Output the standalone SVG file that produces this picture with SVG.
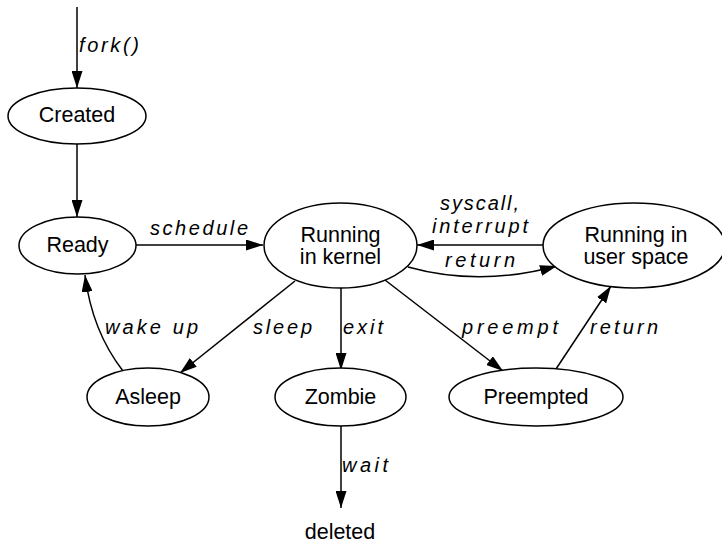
<svg xmlns="http://www.w3.org/2000/svg" width="722" height="544" viewBox="0 0 722 544">
  <defs>
    <marker id="arrow" markerUnits="userSpaceOnUse" markerWidth="17" markerHeight="11" refX="17" refY="5.5" orient="auto">
      <path d="M0,0 L17,5.5 L0,11 z" fill="#000"/>
    </marker>
    <style>
      .node ellipse { fill: #fff; stroke: #000; stroke-width: 1.5; }
      .node text { font-family: "Liberation Sans", Arial, sans-serif; font-size: 21.5px; fill: #000; text-anchor: middle; }
      .edges path { fill: none; stroke: #000; stroke-width: 1.5; marker-end: url(#arrow); }
      .label { font-family: "Liberation Sans", Arial, sans-serif; font-size: 20px; font-style: italic; fill: #000; }
    </style>
  </defs>
  <rect width="722" height="544" fill="#fff"/>

  <g class="edges" id="edges">
    <path d="M77,7 L77,88"/>
    <path d="M77,144 L77,217"/>
    <path d="M136,245 L263,245"/>
    <path d="M543,245 L417,245"/>
    <path d="M408,267 Q480,287 557,266"/>
    <path d="M295,281 L180,373"/>
    <path d="M341,288 L341,370"/>
    <path d="M385,280 L503,371"/>
    <path d="M556,369 L611,286"/>
    <path d="M123,371 Q92,331 85,275"/>
    <path d="M341,424 L341,508"/>
  </g>

  <g id="edge-labels">
    <text class="label" x="79" y="52" textLength="60" lengthAdjust="spacing">fork()</text>
    <text class="label" x="150" y="235" textLength="98" lengthAdjust="spacing">schedule</text>
    <text class="label" x="440" y="210" textLength="79" lengthAdjust="spacing">syscall,</text>
    <text class="label" x="432" y="233" textLength="96" lengthAdjust="spacing">interrupt</text>
    <text class="label" x="445" y="267" textLength="70" lengthAdjust="spacing">return</text>
    <text class="label" x="105" y="334" textLength="93" lengthAdjust="spacing">wake up</text>
    <text class="label" x="253" y="334" textLength="59" lengthAdjust="spacing">sleep</text>
    <text class="label" x="343" y="334" textLength="40" lengthAdjust="spacing">exit</text>
    <text class="label" x="462" y="334" textLength="96" lengthAdjust="spacing">preempt</text>
    <text class="label" x="590" y="334" textLength="68" lengthAdjust="spacing">return</text>
    <text class="label" x="342" y="472" textLength="46" lengthAdjust="spacing">wait</text>
  </g>

  <g class="node" id="created">
    <ellipse cx="77" cy="116" rx="69" ry="28"/>
    <text x="77" y="122">Created</text>
  </g>
  <g class="node" id="ready">
    <ellipse cx="77.5" cy="245.5" rx="58.5" ry="28.5"/>
    <text x="77.5" y="252">Ready</text>
  </g>
  <g class="node" id="running-kernel">
    <ellipse cx="340.5" cy="245.5" rx="76.5" ry="42.5"/>
    <text x="340.5" y="242">Running</text>
    <text x="340.5" y="264">in kernel</text>
  </g>
  <g class="node" id="running-user">
    <ellipse cx="634" cy="245.5" rx="91" ry="42.5"/>
    <text x="636" y="241.5">Running in</text>
    <text x="636" y="263.5">user space</text>
  </g>
  <g class="node" id="asleep">
    <ellipse cx="148" cy="397" rx="61" ry="29"/>
    <text x="148" y="404">Asleep</text>
  </g>
  <g class="node" id="zombie">
    <ellipse cx="340.5" cy="397" rx="65.5" ry="29"/>
    <text x="340.5" y="404">Zombie</text>
  </g>
  <g class="node" id="preempted">
    <ellipse cx="536" cy="397" rx="87" ry="29"/>
    <text x="536" y="404">Preempted</text>
  </g>
  <g class="node" id="deleted">
    <text x="340" y="539">deleted</text>
  </g>
</svg>
